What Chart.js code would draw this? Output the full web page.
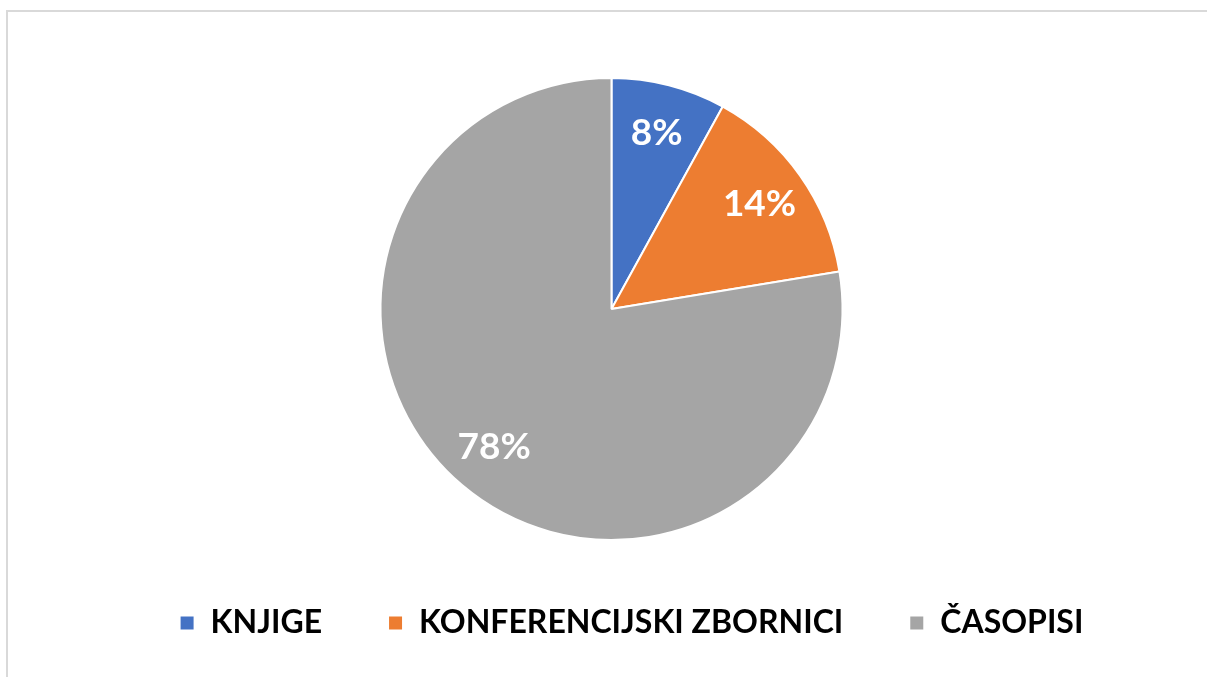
<!DOCTYPE html>
<html>
<head>
<meta charset="utf-8">
<script src="https://cdn.jsdelivr.net/npm/chart.js@4.4.1/dist/chart.umd.min.js"></script>
<style>
  html, body { margin: 0; padding: 0; background: #ffffff; overflow: hidden; }
  #frame { position: absolute; left: 6px; top: 10px; width: 1220px; height: 700px;
           border: 2px solid #d9d9d9; box-sizing: border-box; }
  #wrap { position: absolute; left: 0; top: 0; width: 1207px; height: 677px; }
</style>
</head>
<body>
<div id="frame"></div>
<div id="wrap"><canvas id="c"></canvas></div>
<script>
const categories = ["KNJIGE", "KONFERENCIJSKI ZBORNICI", "ČASOPISI"];
const shares = [8, 14.4, 77.6];
const percentLabels = ["8%", "14%", "78%"];
const sliceColors = ["#4472C4", "#ED7D31", "#A5A5A5"];

const sliceLabels = {
  id: 'sliceLabels',
  afterDatasetsDraw(chart) {
    const ctx = chart.ctx;
    const meta = chart.getDatasetMeta(0);
    ctx.save();
    ctx.fillStyle = '#ffffff';
    ctx.font = 'bold 37px Lato';
    ctx.textAlign = 'center';
    ctx.textBaseline = 'middle';
    meta.data.forEach((arc, i) => {
      const p = arc.getProps(['x', 'y', 'startAngle', 'endAngle', 'outerRadius'], true);
      const mid = (p.startAngle + p.endAngle) / 2;
      const r = p.outerRadius * 0.785;
      ctx.fillText(percentLabels[i], p.x + Math.cos(mid) * r, p.y + Math.sin(mid) * r);
    });
    ctx.restore();
  }
};

const legendShift = {
  id: 'legendShift',
  afterLayout(chart) {
    const lg = chart.legend;
    if (!lg) return;
    lg.left += 20; lg.right += 20;
  }
};

new Chart(document.getElementById('c'), {
  type: 'pie',
  data: {
    labels: categories,
    datasets: [{
      data: shares,
      backgroundColor: sliceColors,
      borderColor: '#ffffff',
      borderWidth: 2
    }]
  },
  options: {
    responsive: true,
    maintainAspectRatio: false,
    animation: false,
    layout: { padding: { top: 77, bottom: 28, left: 16, right: 0 } },
    plugins: {
      tooltip: { enabled: false },
      legend: {
        position: 'bottom',
        labels: {
          boxWidth: 15,
          boxHeight: 15,
          padding: 66,
          color: '#000000',
          font: { family: 'Lato', size: 32, weight: 'bold' }
        }
      }
    }
  },
  plugins: [sliceLabels, legendShift]
});
</script>
</body>
</html>
